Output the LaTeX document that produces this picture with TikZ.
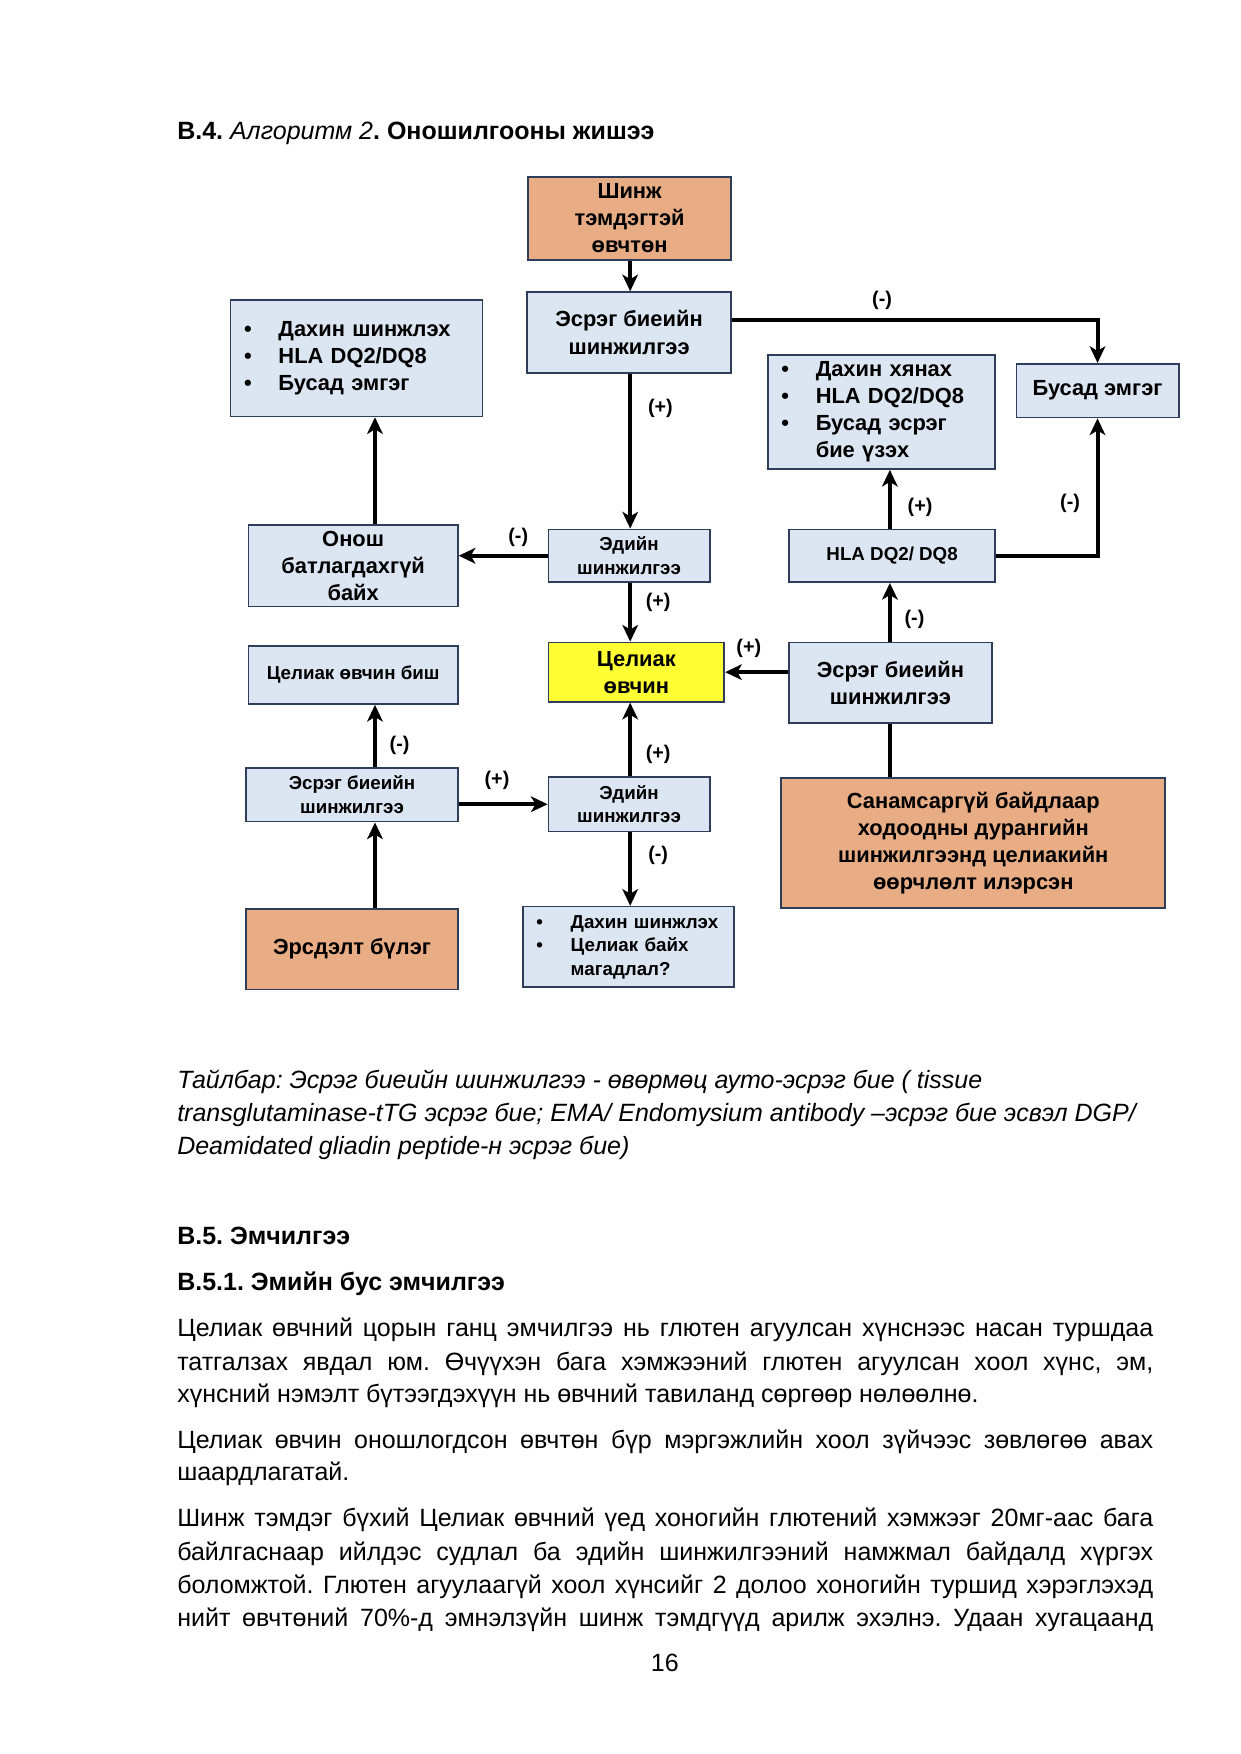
\documentclass[tikz,border=0pt]{standalone}
\usepackage{fontspec}
\setmainfont{Liberation Sans}
\usetikzlibrary{arrows.meta}
\definecolor{boxblue}{HTML}{DCE6F2}
\definecolor{boxedge}{HTML}{2E3D5A}
\definecolor{boxorange}{HTML}{E8AD84}
\definecolor{boxyellow}{HTML}{FFFF33}
\newcommand\jline[1]{\makebox[468.5pt][s]{#1}}
\newcommand\bul{\makebox[16.5pt][l]{•}}
\newcommand\nobul{\hspace*{16.5pt}}
\frenchspacing
\begin{document}
\frenchspacing
\begin{tikzpicture}[x=0.5373pt,y=-0.5373pt,
  box/.style={draw=boxedge, line width=0.8pt, fill=boxblue, inner sep=0pt, align=center,
    font=\bfseries\fontsize{10.5}{13}\selectfont},
  smallfont/.style={font=\bfseries\fontsize{9}{11.3}\selectfont},
  listbox/.style={box, align=left, inner xsep=6.5pt},
  orangebox/.style={box, fill=boxorange},
  yellowbox/.style={box, fill=boxyellow},
  conn/.style={line width=1.9pt, -{Stealth[length=8pt,width=7.5pt,inset=2.2pt]}},
  plainconn/.style={line width=1.9pt},
  lbl/.style={font=\bfseries\fontsize{9.5}{11}\selectfont, inner sep=0pt},
  txt/.style={anchor=base west, inner sep=0pt, font=\fontsize{12}{14}\selectfont},
]
\fill[white] (0,0) rectangle (1108,1567);

% helper coordinates for connector lines
\coordinate (mx) at (563,0);
\coordinate (lx) at (335,0);
\coordinate (rx) at (795,0);
\coordinate (ty) at (0,286);

% title
\node[txt] (title) at (158,125) {\textbf{B.4.} \textit{Алгоритм 2}\textbf{. Оношилгооны жишээ}};

% boxes
\node[orangebox, minimum width=97.3pt, minimum height=39.8pt] (shinzh) at (562.5,195) {Шинж\\тэмдэгтэй\\өвчтөн};
\node[box, minimum width=97.8pt, minimum height=38.7pt] (esreg1) at (562,297) {Эсрэг биеийн\\шинжилгээ};
\node[listbox, text width=107.9pt, minimum height=55.9pt] (list1) at (318.5,320) {\bul Дахин шинжлэх\\\bul HLA DQ2/DQ8\\\bul Бусад эмгэг};
\node[listbox, text width=96.1pt, minimum height=54.8pt] (list2) at (787.5,368) {\bul Дахин хянах\\\bul HLA DQ2/DQ8\\\bul Бусад эсрэг\\\nobul бие үзэх};
\node[box, minimum width=77.9pt, minimum height=25.8pt] (busad) at (980.5,349) {Бусад эмгэг};
\node[box, minimum width=100.5pt, minimum height=39.2pt] (onosh) at (315.5,505.5) {Онош\\батлагдахгүй\\байх};
\node[box, smallfont, minimum width=77.4pt, minimum height=25.3pt] (ediin1) at (562,496.5) {Эдийн\\шинжилгээ};
\node[box, smallfont, minimum width=98.9pt, minimum height=25.3pt] (hla) at (797,496.5) {HLA DQ2/ DQ8};
\node[box, smallfont, minimum width=100.5pt, minimum height=27.9pt] (notcel) at (315.5,603) {Целиак өвчин биш};
\node[yellowbox, minimum width=84.4pt, minimum height=28.5pt] (celiac) at (568.5,600.5) {Целиак\\өвчин};
\node[box, minimum width=97.3pt, minimum height=38.7pt] (esreg2) at (795.5,610) {Эсрэг биеийн\\шинжилгээ};
\node[box, smallfont, minimum width=101.5pt, minimum height=25.8pt] (esreg3) at (314.5,710) {Эсрэг биеийн\\шинжилгээ};
\node[box, smallfont, minimum width=77.4pt, minimum height=26.3pt] (ediin2) at (562,718.5) {Эдийн\\шинжилгээ};
\node[orangebox, minimum width=184.3pt, minimum height=62.3pt] (sanam) at (869.5,753) {Санамсаргүй байдлаар\\ходоодны дурангийн\\шинжилгээнд целиакийн\\өөрчлөлт илэрсэн};
\node[orangebox, minimum width=101.5pt, minimum height=38.7pt] (ersdel) at (314.5,848) {Эрсдэлт бүлэг};
\node[listbox, smallfont, text width=88.5pt, minimum height=38.7pt] (list3) at (561.5,846) {\bul Дахин шинжлэх\\\bul Целиак байх\\\nobul магадлал?};

% connectors
\draw[conn] (shinzh.south -| mx) -- (esreg1.north -| mx);
\draw[conn] (esreg1.east |- ty) -| (busad.north);
\draw[conn] (esreg1.south -| mx) -- (ediin1.north -| mx);
\draw[conn] (ediin1.west) -- (onosh.east |- ediin1.west);
\draw[conn] (onosh.north -| lx) -- (list1.south -| lx);
\draw[conn] (ediin1.south -| mx) -- (celiac.north -| mx);
\draw[conn] (esreg2.west |- celiac.east) -- (celiac.east);
\draw[conn] (esreg2.north -| rx) -- (hla.south -| rx);
\draw[conn] (hla.north -| rx) -- (list2.south -| rx);
\draw[conn] (hla.east) -| (busad.south);
\draw[plainconn] (sanam.north -| rx) -- (esreg2.south -| rx);
\draw[conn] (ersdel.north -| lx) -- (esreg3.south -| lx);
\draw[conn] (esreg3.north -| lx) -- (notcel.south -| lx);
\draw[conn] (esreg3.east |- ediin2.west) -- (ediin2.west);
\draw[conn] (ediin2.north -| mx) -- (celiac.south -| mx);
\draw[conn] (ediin2.south -| mx) -- (list3.north -| mx);

% connector labels
\node[lbl] (l1) at (788,268) {(-)};
\node[lbl] (l2) at (590,365) {(+)};
\node[lbl] (l3) at (463,480) {(-)};
\node[lbl] (l4) at (588,538) {(+)};
\node[lbl] (l5) at (669,579) {(+)};
\node[lbl] (l6) at (822,453) {(+)};
\node[lbl] (l7) at (956,450) {(-)};
\node[lbl] (l8) at (817,553) {(-)};
\node[lbl] (l9) at (357,666) {(-)};
\node[lbl] (l10) at (444,697) {(+)};
\node[lbl] (l11) at (588,674) {(+)};
\node[lbl] (l12) at (588,764) {(-)};

% caption
\node[txt, font=\itshape\fontsize{12}{14}\selectfont] (c1) at (158,972) {Тайлбар: Эсрэг биеийн шинжилгээ - өвөрмөц ауто-эсрэг бие ( tissue};
\node[txt, font=\itshape\fontsize{12}{14}\selectfont] (c2) at (158,1002) {transglutaminase-tTG эсрэг бие; EMA/ Endomysium antibody –эсрэг бие эсвэл DGP/};
\node[txt, font=\itshape\fontsize{12}{14}\selectfont] (c3) at (158,1031) {Deamidated gliadin peptide-н эсрэг бие)};

% headings
\node[txt, font=\bfseries\fontsize{12}{14}\selectfont] (h1) at (158,1112) {B.5. Эмчилгээ};
\node[txt, font=\bfseries\fontsize{12}{14}\selectfont] (h2) at (158,1153) {B.5.1. Эмийн бус эмчилгээ};

% body
\node[txt] (p1) at (158,1194) {\jline{Целиак өвчний цорын ганц эмчилгээ нь глютен агуулсан хүнснээс насан туршдаа}};
\node[txt] (p2) at (158,1224) {\jline{татгалзах явдал юм. Өчүүхэн бага хэмжээний глютен агуулсан хоол хүнс, эм,}};
\node[txt] (p3) at (158,1253) {хүнсний нэмэлт бүтээгдэхүүн нь өвчний тавиланд сөргөөр нөлөөлнө.};
\node[txt] (p4) at (158,1294) {\jline{Целиак өвчин оношлогдсон өвчтөн бүр мэргэжлийн хоол зүйчээс зөвлөгөө авах}};
\node[txt] (p5) at (158,1323) {шаардлагатай.};
\node[txt] (p6) at (158,1364) {\jline{Шинж тэмдэг бүхий Целиак өвчний үед хоногийн глютений хэмжээг 20мг-аас бага}};
\node[txt] (p7) at (158,1394) {\jline{байлгаснаар ийлдэс судлал ба эдийн шинжилгээний намжмал байдалд хүргэх}};
\node[txt] (p8) at (158,1424) {\jline{боломжтой. Глютен агуулаагүй хоол хүнсийг 2 долоо хоногийн туршид хэрэглэхэд}};
\node[txt] (p9) at (158,1453) {\jline{нийт өвчтөний 70\%-д эмнэлзүйн шинж тэмдгүүд арилж эхэлнэ. Удаан хугацаанд}};

\node[txt, anchor=base] (pg) at (594,1493) {16};
\end{tikzpicture}
\end{document}
